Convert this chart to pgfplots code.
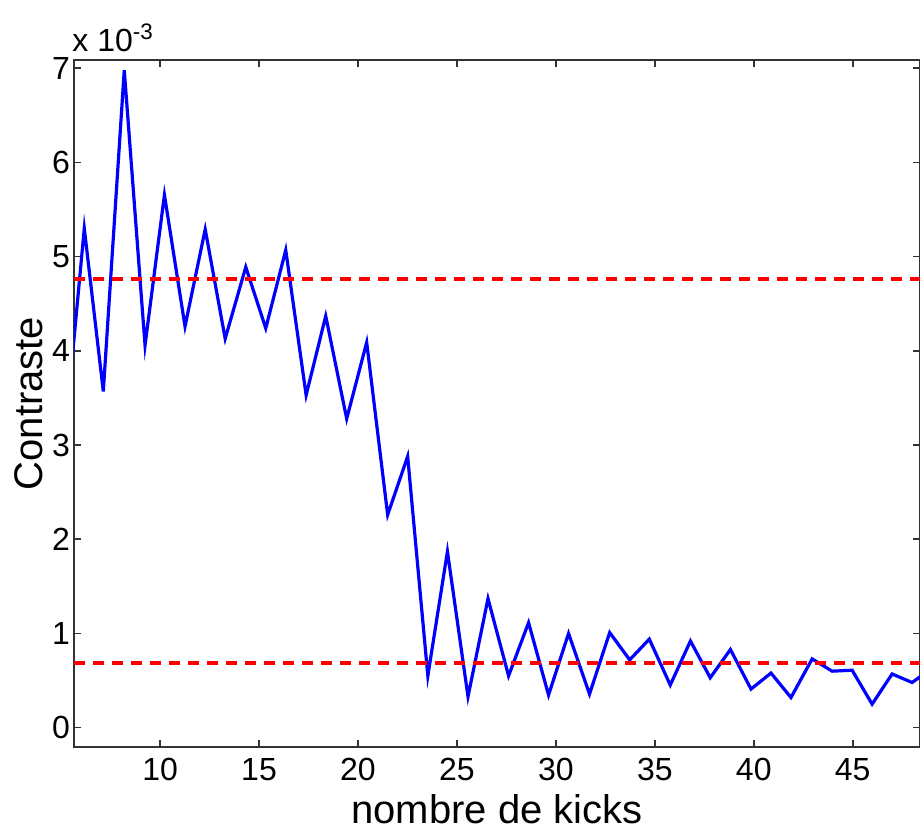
\documentclass[border=0pt]{standalone}
\usepackage{pgfplots}
\pgfplotsset{compat=1.18}
\usepackage{fontspec}
\setmainfont{Liberation Sans}
\begin{document}
\begin{tikzpicture}
\begin{axis}[
  scale only axis,
  width=423pt, height=343.5pt,
  xmin=5.65, xmax=48.4,
  ymin=-0.205, ymax=7.088,
  xtick={10,15,...,45},
  ytick={0,1,...,7},
  tick pos=both,
  tick align=inside,
  major tick length=3.5pt,
  axis line style={black!80, line width=0.8pt},
  every tick/.style={black!80, line width=0.8pt},
  /pgf/number format/assume math mode=true,
  ticklabel style={font=\fontsize{16}{16}\selectfont},
  xticklabel style={yshift=-2pt},
  yticklabel style={xshift=1.5pt},
  xlabel={nombre de kicks},
  ylabel={Contraste},
  label style={font=\fontsize{20}{20}\selectfont},
  xlabel style={at={(axis description cs:0.5,0)}, anchor=base, yshift=-38pt},
  ylabel style={at={(axis description cs:0,0.5)}, anchor=center, yshift=22.5pt},
  clip=true,
]
\addplot[color={rgb,255:red,0;green,0;blue,255}, line width=1.6pt] coordinates {
(5.15,3.0)
(6.17,5.30)
(7.13,3.57)
(8.19,6.98)
(9.24,4.06)
(10.22,5.655)
(11.26,4.26)
(12.28,5.29)
(13.29,4.13)
(14.33,4.89)
(15.34,4.24)
(16.35,5.07)
(17.38,3.53)
(18.37,4.37)
(19.43,3.28)
(20.44,4.09)
(21.5,2.26)
(22.51,2.88)
(23.53,0.55)
(24.52,1.87)
(25.56,0.33)
(26.57,1.37)
(27.61,0.55)
(28.62,1.115)
(29.63,0.347)
(30.64,1.0)
(31.7,0.357)
(32.72,1.01)
(33.73,0.72)
(34.72,0.94)
(35.78,0.453)
(36.8,0.92)
(37.8,0.53)
(38.82,0.83)
(39.86,0.41)
(40.87,0.58)
(41.88,0.32)
(42.95,0.73)
(43.96,0.60)
(44.97,0.61)
(45.98,0.25)
(46.99,0.57)
(48.0,0.48)
(49.0,0.63)
};
\addplot[color={rgb,255:red,255;green,0;blue,0}, line width=1.8pt, dash pattern=on 5.5pt off 4pt] coordinates {(5.65,4.76) (48.4,4.76)};
\addplot[color={rgb,255:red,255;green,0;blue,0}, line width=1.8pt, dash pattern=on 5.5pt off 4pt] coordinates {(5.65,0.685) (48.4,0.685)};
\end{axis}
\node[anchor=base west, inner sep=0pt, font=\fontsize{16}{16}\selectfont] at (-1pt,347.5pt) {x 10\textsuperscript{-3}};
\pgfresetboundingbox
\path (-37pt,-41pt) rectangle (423pt,373.5pt);
\end{tikzpicture}
\end{document}
